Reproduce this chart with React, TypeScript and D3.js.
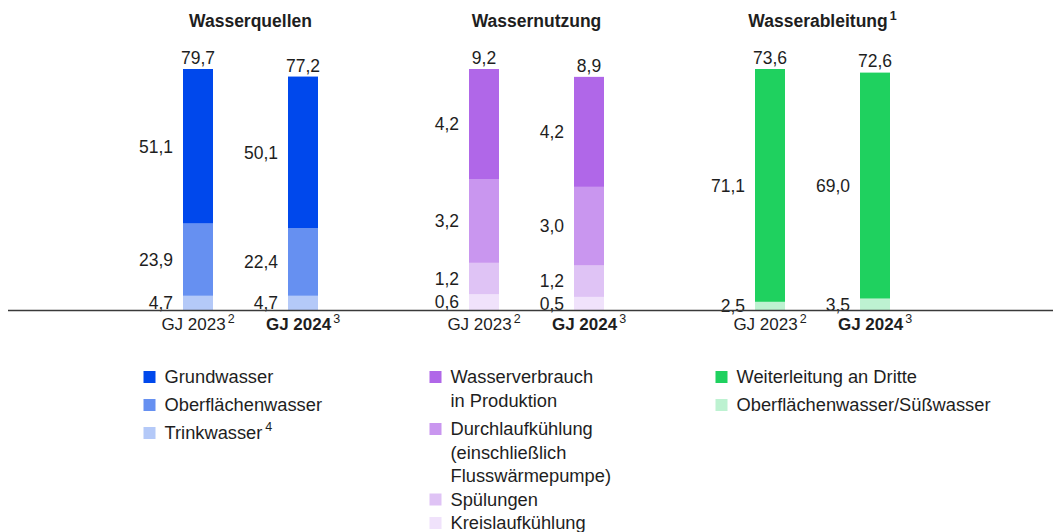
import React from "react";
import * as d3 from "d3";

const W = 1053;
const H = 532;

// panels and years
const panels = ["Wasserquellen", "Wassernutzung", "Wasserableitung"];
const panelNotes = ["", "", "1"];
const years = ["GJ 2023", "GJ 2024"];
const yearNotes = ["2", "3"];

// series per panel, top to bottom
const quellenKeys = ["Grundwasser", "Oberflächenwasser", "Trinkwasser"];
const quellen2023 = [51.1, 23.9, 4.7];
const quellen2024 = [50.1, 22.4, 4.7];
const quellenTotals = [79.7, 77.2];
const quellenColors = ["#0048ec", "#6690f1", "#b4c9f8"];

const nutzungKeys = ["Wasserverbrauch in Produktion", "Durchlaufkühlung", "Spülungen", "Kreislaufkühlung"];
const nutzung2023 = [4.2, 3.2, 1.2, 0.6];
const nutzung2024 = [4.2, 3.0, 1.2, 0.5];
const nutzungTotals = [9.2, 8.9];
const nutzungColors = ["#b067e8", "#c996ef", "#dfc3f5", "#f0e2fb"];

const ableitungKeys = ["Weiterleitung an Dritte", "Oberflächenwasser/Süßwasser"];
const ableitung2023 = [71.1, 2.5];
const ableitung2024 = [69.0, 3.5];
const ableitungTotals = [73.6, 72.6];
const ableitungColors = ["#1fd15f", "#bdf2d1"];

// legend text lines (superscript note on the last line)
const quellenLegend = [["Grundwasser"], ["Oberflächenwasser"], ["Trinkwasser"]];
const quellenLegendNotes = ["", "", "4"];
const nutzungLegend = [
  ["Wasserverbrauch", "in Produktion"],
  ["Durchlaufkühlung", "(einschließlich", "Flusswärmepumpe)"],
  ["Spülungen"],
  ["Kreislaufkühlung"],
];
const ableitungLegend = [["Weiterleitung an Dritte"], ["Oberflächenwasser/Süßwasser"]];

const FONT = "'Liberation Sans', Arial, Helvetica, sans-serif";
const TEXT = "#1e1e1e";
const fmt = (v: number) => v.toFixed(1).replace(".", ",");

const panelData = [
  { keys: quellenKeys, values: [quellen2023, quellen2024], totals: quellenTotals, colors: quellenColors, legend: quellenLegend, notes: quellenLegendNotes },
  { keys: nutzungKeys, values: [nutzung2023, nutzung2024], totals: nutzungTotals, colors: nutzungColors, legend: nutzungLegend, notes: [] as string[] },
  { keys: ableitungKeys, values: [ableitung2023, ableitung2024], totals: ableitungTotals, colors: ableitungColors, legend: ableitungLegend, notes: [] as string[] },
];

export default function App() {
  const baseY = 310;
  const topY = 69;
  const barW = 30;

  const panelX = d3.scalePoint<string>().domain(panels).range([250.5, 822.5]);
  const yearX = d3.scalePoint<string>().domain(years).range([-52.5, 52.5]);

  return (
    <svg
      width={W}
      height={H}
      style={{ position: "absolute", left: 0, top: 0, background: "#fff" }}
      fontFamily={FONT}
      fill={TEXT}
    >
      {panels.map((p, pi) => {
        const pd = panelData[pi];
        const cx = panelX(p)!;
        const y = d3.scaleLinear().domain([0, d3.max(pd.totals)!]).range([baseY, topY]);
        // stack from bottom: reverse key order
        const stackKeys = [...pd.keys].reverse();
        const rows = years.map((yr, yi) => {
          const r: any = { year: yr };
          pd.keys.forEach((k, ki) => (r[k] = pd.values[yi][ki]));
          return r;
        });
        const series = d3.stack<any>().keys(stackKeys)(rows);

        return (
          <g key={p}>
            <text x={cx} y={27} textAnchor="middle" fontSize={17.5} fontWeight="bold">
              {p}
              {panelNotes[pi] && (
                <tspan dx={2} dy={-7} fontSize={12.5}>
                  {panelNotes[pi]}
                </tspan>
              )}
            </text>

            {years.map((yr, yi) => {
              const bx = cx + yearX(yr)!;
              return (
                <g key={yr}>
                  {series.map((s) => {
                    const ki = pd.keys.indexOf(s.key);
                    const d = s[yi];
                    const y0 = y(d[0]);
                    const y1 = y(d[1]);
                    return (
                      <g key={s.key}>
                        <rect x={bx - barW / 2} y={y1} width={barW} height={y0 - y1} fill={pd.colors[ki]} />
                        <text
                          x={bx - barW / 2 - 10}
                          y={(y0 + y1) / 2}
                          dy="0.36em"
                          textAnchor="end"
                          fontSize={17.5}
                        >
                          {fmt(pd.values[yi][ki])}
                        </text>
                      </g>
                    );
                  })}
                  <text x={bx} y={y(pd.totals[yi]) - 5} textAnchor="middle" fontSize={17.5}>
                    {fmt(pd.totals[yi])}
                  </text>
                  <text x={bx} y={330} textAnchor="middle" fontSize={17} fontWeight={yi === 1 ? "bold" : "normal"}>
                    {yr}
                    <tspan dx={2} dy={-7.5} fontSize={12.5} fontWeight="normal">
                      {yearNotes[yi]}
                    </tspan>
                  </text>
                </g>
              );
            })}

            {(() => {
              let ly = 383;
              const lineH = 23.5;
              return pd.legend.map((lines, li) => {
                const startY = ly;
                ly += lines.length * lineH + (pi === 1 ? (li === 0 ? 5 : 0) : 4.5);
                return (
                  <g key={li}>
                    <rect x={cx - 107} y={startY - 12} width={12} height={12} fill={pd.colors[li]} />
                    {lines.map((t, ti) => (
                      <text key={ti} x={cx - 86} y={startY + ti * lineH} fontSize={18.3}>
                        {t}
                        {ti === lines.length - 1 && pd.notes[li] && (
                          <tspan dx={3} dy={-8} fontSize={12.5}>
                            {pd.notes[li]}
                          </tspan>
                        )}
                      </text>
                    ))}
                  </g>
                );
              });
            })()}
          </g>
        );
      })}

      <line x1={8} x2={W} y1={310.5} y2={310.5} stroke="#3a3a3a" strokeWidth={1.3} />
    </svg>
  );
}
